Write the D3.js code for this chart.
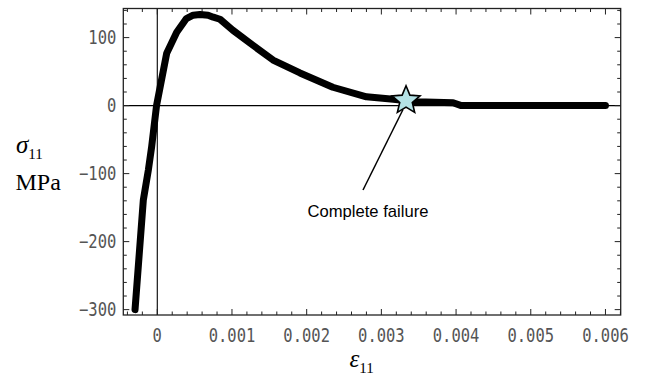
<!DOCTYPE html>
<html>
<head>
<meta charset="utf-8">
<script src="https://cdn.jsdelivr.net/npm/d3@7/dist/d3.min.js"></script>
<style>
  html, body { margin: 0; padding: 0; background: #fff; }
  svg { display: block; }
</style>
</head>
<body>
<svg id="chart" width="648" height="375"></svg>
<script>
// Stress-strain response of the element, sampled along the loading path
const strain = [-0.000298, -0.000187, -0.00012, -0.000075, -0.00001, 0.000126, 0.00026, 0.00039,
  0.00048, 0.00057, 0.00068, 0.00075, 0.00084, 0.00101, 0.00124, 0.00155, 0.00191,
  0.00235, 0.0028, 0.00316, 0.00347, 0.00396, 0.00407, 0.006];
const stress = [-300, -139, -95, -60, 0, 77, 108, 128,
  133, 134, 133, 130, 127, 111, 92, 67, 48,
  27, 13, 9.5, 5.7, 4.3, 0, 0];

// Point of complete failure
const failureStrain = [0.00333];
const failureStress = [7.5];
const failureLabel = "Complete failure";

const xTickValues = [0, 0.001, 0.002, 0.003, 0.004, 0.005, 0.006];
const xTickLabels = ["0", "0.001", "0.002", "0.003", "0.004", "0.005", "0.006"];
const yTickValues = [100, 0, -100, -200, -300];
const yTickLabels = ["100", "0", "\u2212100", "\u2212200", "\u2212300"];

const svg = d3.select("#chart");
const pLeft = 123.3, pRight = 620.7, pTop = 8.5, pBottom = 315;

const x = d3.scaleLinear().domain([-0.000455, 0.006204]).range([pLeft, pRight]);
const y = d3.scaleLinear().domain([-307.9, 142.8]).range([pBottom, pTop]);

// zero axes
svg.append("line").attr("x1", x(0)).attr("x2", x(0)).attr("y1", pTop).attr("y2", pBottom)
  .attr("stroke", "#000").attr("stroke-width", 1.1);
svg.append("line").attr("x1", pLeft).attr("x2", pRight).attr("y1", y(0)).attr("y2", y(0))
  .attr("stroke", "#000").attr("stroke-width", 1.1);

// frame with inward ticks on all four sides
const minorX = d3.range(-0.0004, 0.00621, 0.0002).map(v => +v.toFixed(5));
const minorY = d3.range(-300, 141, 20);
const frame = svg.append("g");
frame.append("rect").attr("x", pLeft).attr("y", pTop).attr("width", pRight - pLeft).attr("height", pBottom - pTop)
  .attr("fill", "none").attr("stroke", "#222").attr("stroke-width", 1.3);

function isMajorX(v) { return Math.abs(v * 1000 - Math.round(v * 1000)) < 1e-6; }
function isMajorY(v) { return v % 100 === 0; }

minorX.forEach(v => {
  const len = isMajorX(v) ? 6 : 3.5;
  frame.append("line").attr("x1", x(v)).attr("x2", x(v)).attr("y1", pBottom).attr("y2", pBottom - len)
    .attr("stroke", "#222").attr("stroke-width", 1);
  frame.append("line").attr("x1", x(v)).attr("x2", x(v)).attr("y1", pTop).attr("y2", pTop + len)
    .attr("stroke", "#222").attr("stroke-width", 1);
});
minorY.forEach(v => {
  const len = isMajorY(v) ? 6 : 3.5;
  frame.append("line").attr("y1", y(v)).attr("y2", y(v)).attr("x1", pLeft).attr("x2", pLeft + len)
    .attr("stroke", "#222").attr("stroke-width", 1);
  frame.append("line").attr("y1", y(v)).attr("y2", y(v)).attr("x1", pRight).attr("x2", pRight - len)
    .attr("stroke", "#222").attr("stroke-width", 1);
});

// tick labels
const tickFont = "'DejaVu Sans Mono', monospace";
xTickValues.forEach((v, i) => {
  svg.append("text")
    .attr("transform", `translate(${x(v)},${pBottom + 26.5}) scale(1,1.2)`)
    .attr("text-anchor", "middle")
    .attr("font-family", tickFont).attr("font-size", 15.5).attr("fill", "#555")
    .text(xTickLabels[i]);
});
yTickValues.forEach((v, i) => {
  svg.append("text")
    .attr("transform", `translate(${pLeft - 7},${y(v) + 6.8}) scale(1,1.2)`)
    .attr("text-anchor", "end")
    .attr("font-family", tickFont).attr("font-size", 15.5).attr("fill", "#555")
    .text(yTickLabels[i]);
});

// curve
const line = d3.line().x((d, i) => x(strain[i])).y((d, i) => y(stress[i]));
svg.append("path").datum(strain).attr("d", line)
  .attr("fill", "none").attr("stroke", "#000").attr("stroke-width", 7)
  .attr("stroke-linejoin", "round").attr("stroke-linecap", "round");

// failure annotation
const fx = x(failureStrain[0]), fy = y(failureStress[0]);
svg.append("line").attr("x1", fx - 3).attr("y1", fy + 9).attr("x2", 363).attr("y2", 190)
  .attr("stroke", "#000").attr("stroke-width", 1.5);

const R = 14.7, r = 6.6;
const starPts = d3.range(10).map(k => {
  const a = -Math.PI / 2 + k * Math.PI / 5;
  const rad = k % 2 === 0 ? R : r;
  return [fx + rad * Math.cos(a), fy + rad * Math.sin(a)];
});
svg.append("polygon").attr("points", starPts.map(p => p.join(",")).join(" "))
  .attr("fill", "#b4e2e6").attr("stroke", "#000").attr("stroke-width", 1.6)
  .attr("stroke-linejoin", "miter");

svg.append("text").attr("x", 368).attr("y", 216.5).attr("text-anchor", "middle")
  .attr("font-family", "'Liberation Sans', Arial, sans-serif").attr("font-size", 16.6).attr("fill", "#000")
  .text(failureLabel);

// axis titles
const serif = "'Liberation Serif', 'Times New Roman', serif";
const yt = svg.append("text").attr("x", 16).attr("y", 153).attr("font-family", serif).attr("fill", "#000");
yt.append("tspan").attr("font-style", "italic").attr("font-size", 25).text("\u03c3");
yt.append("tspan").attr("font-size", 15).attr("dy", 6).text("11");
svg.append("text").attr("x", 15.5).attr("y", 190).attr("font-family", serif).attr("font-size", 24)
  .attr("fill", "#000").text("MPa");

const xt = svg.append("text").attr("x", 349.5).attr("y", 367).attr("font-family", serif).attr("fill", "#000");
xt.append("tspan").attr("font-style", "italic").attr("font-size", 25).text("\u03b5");
xt.append("tspan").attr("font-size", 15).attr("dy", 6).text("11");
</script>
</body>
</html>
